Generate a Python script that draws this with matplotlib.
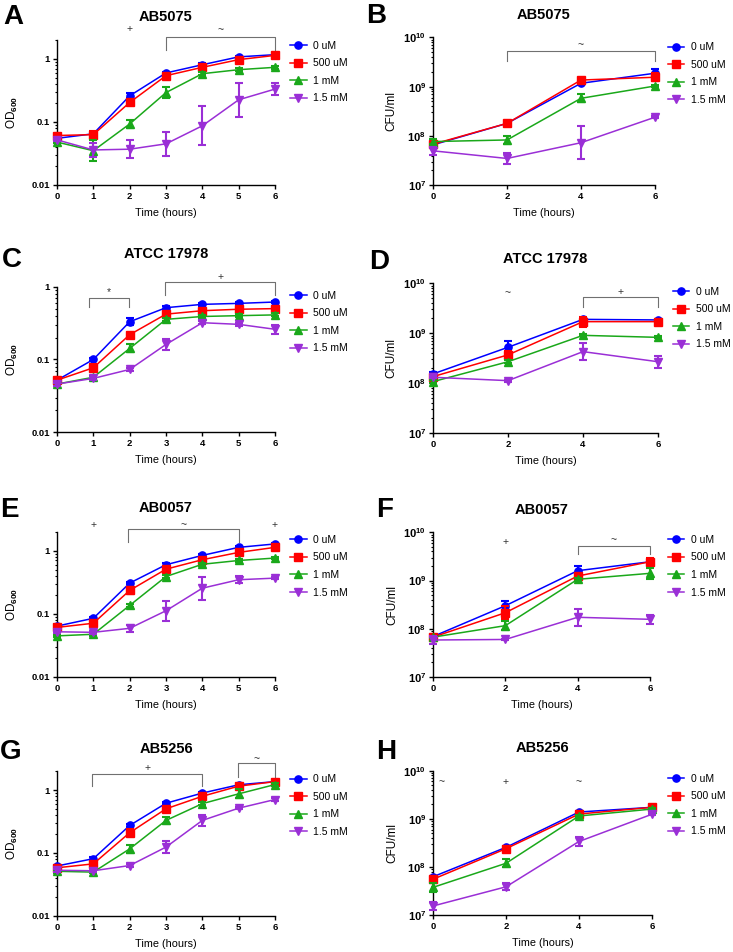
import numpy as np
import matplotlib
matplotlib.use('Agg')
import matplotlib.pyplot as plt
from matplotlib import ticker, transforms

plt.rcParams['font.family'] = ['Liberation Sans', 'DejaVu Sans']
plt.rcParams['font.weight'] = 'bold'
plt.rcParams['mathtext.fontset'] = 'custom'
plt.rcParams['mathtext.rm'] = 'Liberation Sans'
plt.rcParams['mathtext.bf'] = 'Liberation Sans:bold'

W, H = 733, 952

hours_od = [0, 1, 2, 3, 4, 5, 6]
hours_cfu = [0, 2, 4, 6]
doses = ['0 uM', '500 uM', '1 mM', '1.5 mM']
colors = ['#0000ff', '#ff0000', '#1aa81a', '#9a2fd6']
markers = ['o', 's', '^', 'v']

# values: one row per dose (0 uM, 500 uM, 1 mM, 1.5 mM)
# errors: half width of the error bar in decades (log10 units)
a_od = [[0.055, 0.065, 0.26, 0.60, 0.81, 1.08, 1.17],
        [0.061, 0.063, 0.204, 0.543, 0.737, 0.976, 1.14],
        [0.048, 0.035, 0.093, 0.293, 0.584, 0.676, 0.737],
        [0.052, 0.036, 0.037, 0.045, 0.087, 0.225, 0.333]]
a_err = [[0.02, 0.03, 0.04, 0.02, 0.02, 0.02, 0.02],
         [0.02, 0.06, 0.03, 0.02, 0.02, 0.02, 0.03],
         [0.02, 0.17, 0.07, 0.09, 0.02, 0.02, 0.02],
         [0.02, 0.11, 0.14, 0.19, 0.31, 0.27, 0.10]]

b_cfu = [[6.6e7, 1.8e8, 1.17e9, 1.87e9],
         [6.8e7, 1.8e8, 1.36e9, 1.55e9],
         [7.7e7, 8.3e7, 5.8e8, 1.03e9],
         [5.0e7, 3.5e7, 7.3e7, 2.4e8]]
b_err = [[0.03, 0.02, 0.03, 0.08],
         [0.03, 0.03, 0.03, 0.08],
         [0.05, 0.08, 0.08, 0.02],
         [0.08, 0.11, 0.33, 0.02]]

c_od = [[0.052, 0.100, 0.33, 0.515, 0.572, 0.59, 0.616],
        [0.052, 0.077, 0.219, 0.42, 0.468, 0.49, 0.50],
        [0.046, 0.057, 0.142, 0.356, 0.39, 0.40, 0.41],
        [0.046, 0.055, 0.073, 0.161, 0.32, 0.304, 0.26]]
c_err = [[0.02, 0.02, 0.05, 0.02, 0.02, 0.02, 0.02],
         [0.02, 0.045, 0.03, 0.02, 0.02, 0.02, 0.02],
         [0.02, 0.02, 0.055, 0.02, 0.02, 0.02, 0.02],
         [0.02, 0.02, 0.02, 0.075, 0.02, 0.02, 0.06]]

d_cfu = [[1.54e8, 5.25e8, 1.9e9, 1.85e9],
         [1.36e8, 3.7e8, 1.71e9, 1.71e9],
         [1.08e8, 2.7e8, 9.1e8, 8.3e8],
         [1.32e8, 1.13e8, 4.3e8, 2.7e8]]
d_err = [[0.04, 0.12, 0.03, 0.02],
         [0.03, 0.08, 0.10, 0.03],
         [0.03, 0.03, 0.02, 0.02],
         [0.02, 0.02, 0.17, 0.12]]

e_od = [[0.064, 0.085, 0.307, 0.60, 0.843, 1.13, 1.28],
        [0.061, 0.071, 0.235, 0.51, 0.72, 0.94, 1.13],
        [0.0448, 0.0475, 0.136, 0.39, 0.61, 0.70, 0.765],
        [0.052, 0.051, 0.059, 0.112, 0.255, 0.347, 0.368]]
e_err = [[0.02, 0.02, 0.02, 0.02, 0.02, 0.02, 0.02],
         [0.02, 0.02, 0.06, 0.02, 0.02, 0.02, 0.02],
         [0.02, 0.02, 0.02, 0.02, 0.02, 0.02, 0.02],
         [0.02, 0.02, 0.06, 0.16, 0.185, 0.055, 0.02]]

f_cfu = [[6.9e7, 3.0e8, 1.6e9, 2.45e9],
         [6.7e7, 2.15e8, 1.24e9, 2.45e9],
         [6.7e7, 1.16e8, 1.06e9, 1.41e9],
         [5.85e7, 6.0e7, 1.73e8, 1.57e8]]
f_err = [[0.02, 0.09, 0.09, 0.03],
         [0.02, 0.14, 0.05, 0.07],
         [0.02, 0.10, 0.03, 0.11],
         [0.08, 0.02, 0.18, 0.09]]

g_od = [[0.062, 0.081, 0.274, 0.62, 0.90, 1.22, 1.37],
        [0.058, 0.067, 0.21, 0.505, 0.80, 1.16, 1.37],
        [0.051, 0.0495, 0.116, 0.33, 0.61, 0.875, 1.23],
        [0.053, 0.052, 0.063, 0.124, 0.33, 0.517, 0.71]]
g_err = [[0.02, 0.02, 0.02, 0.02, 0.02, 0.02, 0.02],
         [0.02, 0.02, 0.06, 0.02, 0.02, 0.02, 0.02],
         [0.02, 0.02, 0.06, 0.06, 0.02, 0.07, 0.02],
         [0.02, 0.02, 0.02, 0.09, 0.09, 0.02, 0.02]]

h_cfu = [[6.3e7, 2.57e8, 1.39e9, 1.74e9],
         [5.6e7, 2.41e8, 1.26e9, 1.74e9],
         [3.8e7, 1.2e8, 1.15e9, 1.6e9],
         [1.56e7, 3.9e7, 3.4e8, 1.25e9]]
h_err = [[0.02, 0.02, 0.02, 0.02],
         [0.07, 0.02, 0.02, 0.02],
         [0.09, 0.08, 0.02, 0.02],
         [0.09, 0.07, 0.10, 0.02]]

# significance marks: brackets (x0, x1, top, leg, symbol, text y) and single symbols (x, symbol, y)
# y values in axes fraction
a_brackets = [(3, 6, 1.023, 0.93, '~', 1.07)]
a_marks = [(2, '+', 1.075)]
b_brackets = [(2, 6, 0.909, 0.84, '~', 0.948)]
b_marks = []
c_brackets = [(0.87, 1.97, 0.92, 0.863, '*', 0.965), (2.98, 6, 1.034, 0.943, '+', 1.069)]
c_marks = []
d_brackets = [(4, 6, 0.907, 0.844, '+', 0.94)]
d_marks = [(2, '~', 0.936)]
e_brackets = [(1.96, 5, 1.016, 0.931, '~', 1.046)]
e_marks = [(1, '+', 1.046), (6, '+', 1.046)]
f_brackets = [(4, 6, 0.907, 0.848, '~', 0.947)]
f_marks = [(2, '+', 0.935)]
g_brackets = [(0.96, 4, 0.983, 0.898, '+', 1.023), (4.97, 6, 1.057, 0.961, '~', 1.087)]
g_marks = []
h_brackets = []
h_marks = [(0.23, '~', 0.922), (2, '+', 0.922), (4, '~', 0.922)]

fig = plt.figure(figsize=(W / 100, H / 100), dpi=100)


def px_axes(left, top, right, bottom):
    return fig.add_axes([left / W, 1 - bottom / H, (right - left) / W, (bottom - top) / H])


def draw_panel(box, x, vals, errs, kind, ymax, letter, letter_xy, title, title_y,
               leg_xy, brackets, marks):
    ax = px_axes(*box)
    for i in range(4):
        v = np.array(vals[i])
        f = 10 ** np.array(errs[i])
        eb = ax.errorbar(x, v, yerr=[v - v / f, v * f - v], fmt='none', ecolor=colors[i],
                         elinewidth=1.5, capsize=2.6, capthick=1.5, zorder=3 + i)
        for art in eb.get_children():
            art.set_clip_on(False)
        ax.plot(x, v, color=colors[i], marker=markers[i], ms=5.2, lw=1.1, label=doses[i],
                zorder=3 + i, clip_on=False)

    ax.set_yscale('log')
    ax.set_xlim(0, 6)
    ax.set_xticks(x)
    if kind == 'od':
        ax.set_ylim(0.01, ymax)
        ax.set_yticks([0.01, 0.1, 1], labels=['0.01', '0.1', '1'])
        ax.set_ylabel(r'OD$_{\mathbf{600}}$', fontsize=8.5)
        ax.yaxis.set_label_coords(-0.17, 0.5)
    else:
        ax.set_ylim(1e7, 1e10)
        ax.set_yticks([1e7, 1e8, 1e9, 1e10],
                      labels=[r'$\mathbf{10^{%d}}$' % p for p in (7, 8, 9, 10)])
        ax.set_ylabel('CFU/ml', fontsize=8.5)
        ax.yaxis.set_label_coords(-0.16, 0.5)
    ax.yaxis.set_minor_locator(ticker.LogLocator(base=10, subs=range(2, 10), numticks=20))
    ax.yaxis.set_minor_formatter(ticker.NullFormatter())
    ax.set_xlabel('Time (hours)', fontsize=7.8, labelpad=5)

    ax.tick_params(which='major', direction='out', length=3, width=1, labelsize=6.8, pad=2)
    ax.tick_params(which='minor', direction='out', length=1.8, width=0.8)
    if kind == 'cfu':
        ax.tick_params(axis='y', which='major', labelsize=8)
    for side in ['top', 'right']:
        ax.spines[side].set_visible(False)
    for side in ['left', 'bottom']:
        ax.spines[side].set_linewidth(1)

    ax.text(0.5, title_y, title, transform=ax.transAxes, ha='center', va='center',
            fontsize=10.5, fontweight='bold')
    fig.text(letter_xy[0] / W, 1 - letter_xy[1] / H, letter, fontsize=20,
             fontweight='bold', ha='left', va='baseline')

    ax.legend(loc='upper left', bbox_to_anchor=(leg_xy[0] / W, 1 - (leg_xy[1] - 6) / H),
              bbox_transform=fig.transFigure, frameon=False,
              prop={'size': 7.5, 'weight': 'normal'}, handlelength=1.6,
              handletextpad=0.6, labelspacing=0.72, borderpad=0, borderaxespad=0)

    trans = transforms.blended_transform_factory(ax.transData, ax.transAxes)
    for x0, x1, top, leg, sym, ty in brackets:
        ax.plot([x0, x0, x1, x1], [leg, top, top, leg], transform=trans, color='#707070',
                lw=0.8, clip_on=False)
        ax.text((x0 + x1) / 2, ty, sym, transform=trans, ha='center', va='center',
                fontsize=7.5, fontweight='normal', color='#333333')
    for xm, sym, ty in marks:
        ax.text(xm, ty, sym, transform=trans, ha='center', va='center',
                fontsize=7.5, fontweight='normal', color='#333333')
    return ax


draw_panel((57, 40, 275, 185), hours_od, a_od, a_err, 'od', 2, 'A', (3, 24), 'AB5075', 1.157,
           (290, 46.7), a_brackets, a_marks)
draw_panel((433, 37.3, 655, 185.3), hours_cfu, b_cfu, b_err, 'cfu', None, 'B', (366, 23),
           'AB5075', 1.151, (667.7, 48.3), b_brackets, b_marks)
draw_panel((57, 286.7, 275, 432.3), hours_od, c_od, c_err, 'od', 1, 'C', (2, 267),
           'ATCC 17978', 1.225, (290, 296.7), c_brackets, c_marks)
draw_panel((433, 283.3, 658, 433.3), hours_cfu, d_cfu, d_err, 'cfu', None, 'D', (369, 269),
           'ATCC 17978', 1.16, (672.7, 292.7), d_brackets, d_marks)
draw_panel((57, 531.7, 275, 677), hours_od, e_od, e_err, 'od', 2, 'E', (0, 517),
           'AB0057', 1.165, (290, 541), e_brackets, e_marks)
draw_panel((433, 532.3, 650, 677), hours_cfu, f_cfu, f_err, 'cfu', None, 'F', (376, 517),
           'AB0057', 1.154, (667.7, 541), f_brackets, f_marks)
draw_panel((57, 771.3, 275, 915.7), hours_od, g_od, g_err, 'od', 2, 'G', (0, 759),
           'AB5256', 1.157, (290, 780.3), g_brackets, g_marks)
draw_panel((433, 770.7, 652, 915.3), hours_cfu, h_cfu, h_err, 'cfu', None, 'H', (376, 759),
           'AB5256', 1.157, (667.7, 779.7), h_brackets, h_marks)

fig.savefig('out.png', dpi=100)
